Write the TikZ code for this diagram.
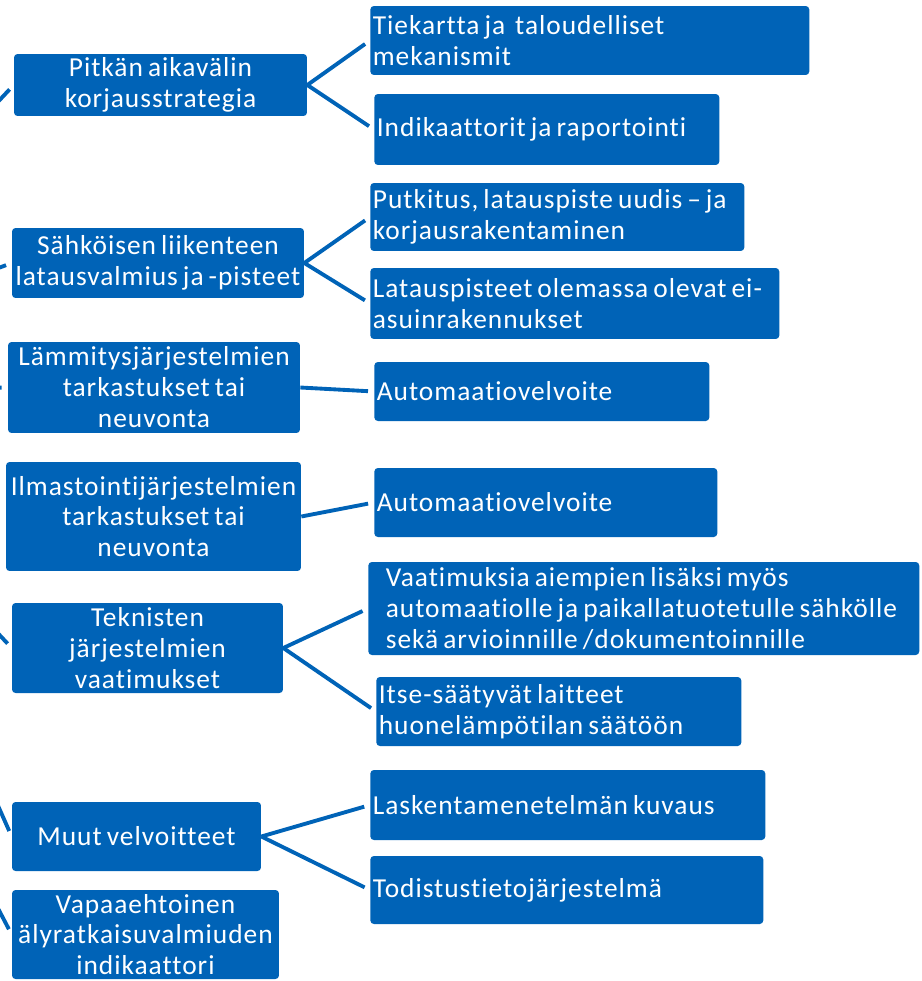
\documentclass[tikz,border=0pt]{standalone}
\usepackage{fontspec}
\setmainfont{Carlito}[LetterSpace=3.6,WordSpace=0.7,Ligatures={NoCommon}]
\usepackage{tikz}
\usetikzlibrary{positioning}
\definecolor{boxblue}{RGB}{0,99,183}

\begin{document}
\begin{tikzpicture}[x=0.02cm, y=-0.02cm,
  topic/.style={fill=boxblue,text=white,rounded corners=2pt,align=center,inner sep=0pt,font=\fontsize{15.6}{17.6}\selectfont},
  measure/.style={fill=boxblue,text=white,rounded corners=2pt,align=flush left,anchor=west,inner xsep=0.05cm,inner ysep=0pt,text width=#1,font=\fontsize{15.6}{17.6}\selectfont},
  link/.style={draw=boxblue,line width=2.2pt,shorten >=0.12cm}]
  \useasboundingbox (0,0) rectangle (922,981);
  \clip (0,0) rectangle (922,981);
  % left column
  \node[topic,minimum width=5.86cm,minimum height=1.24cm] (strategy) at (160.5,85) {Pitkän aikavälin\\korjausstrategia};
  \node[topic,minimum width=5.84cm,minimum height=1.4cm] (charging) at (158,263) {Sähköisen liikenteen\\latausvalmius ja -pisteet};
  \node[topic,minimum width=5.84cm,minimum height=1.82cm] (heating) at (154,387.5) {Lämmitysjärjestelmien\\tarkastukset tai\\neuvonta};
  \node[topic,minimum width=5.9cm,minimum height=2.18cm] (aircon) at (153.5,516.5) {Ilmastointijärjestelmien\\tarkastukset tai\\neuvonta};
  \node[topic,minimum width=5.42cm,minimum height=1.8cm] (technical) at (147.5,648) {Teknisten\\järjestelmien\\vaatimukset};
  \node[topic,minimum width=4.98cm,minimum height=1.38cm] (other) at (136.5,836.5) {Muut velvoitteet};
  \node[topic,minimum width=5.34cm,minimum height=1.78cm] (smart) at (145.5,934.5) {Vapaaehtoinen\\älyratkaisuvalmiuden\\indikaattori};
  % right column
  \node[measure=8.68cm,minimum height=1.38cm] (roadmap) at (370,40.5) {Tiekartta ja \ taloudelliset\\mekanismit};
  \node[measure=6.8cm,minimum height=1.42cm] (indicators) at (374,129.5) {Indikaattorit ja raportointi};
  \node[measure=7.38cm,minimum height=1.36cm] (piping) at (370,217) {Putkitus, latauspiste uudis – ja\\korjausrakentaminen};
  \node[measure=8.08cm,minimum height=1.42cm] (existing) at (370,303.5) {Latauspisteet olemassa olevat ei-\\asuinrakennukset};
  \node[measure=6.6cm,minimum height=1.18cm] (autoheat) at (374,391.5) {Automaatiovelvoite};
  \node[measure=6.76cm,minimum height=1.38cm] (autoair) at (374,502.5) {Automaatiovelvoite};
  \node[measure=10.92cm,minimum height=1.86cm] (requirements) at (368,608.5) {\hspace*{0.3cm}Vaatimuksia aiempien lisäksi myös\\\hspace*{0.3cm}automaatiolle ja paikallatuotetulle sähkölle\\\hspace*{0.3cm}sekä arvioinnille /dokumentoinnille};
  \node[measure=7.2cm,minimum height=1.38cm] (selfreg) at (376,711.5) {Itse-säätyvät laitteet\\huonelämpötilan säätöön};
  \node[measure=7.8cm,minimum height=1.4cm] (method) at (370,805) {Laskentamenetelmän kuvaus};
  \node[measure=7.76cm,minimum height=1.36cm] (register) at (370,890) {Todistustietojärjestelmä};
  % connectors
  \draw[link] (strategy.east) -- (roadmap.west);
  \draw[link] (strategy.east) -- (indicators.west);
  \draw[link] (charging.east) -- (piping.west);
  \draw[link] (charging.east) -- (existing.west);
  \draw[link] (heating.east) -- (autoheat.west);
  \draw[link] (aircon.east) -- (autoair.west);
  \draw[link] (technical.east) -- (requirements.west);
  \draw[link] (technical.east) -- (selfreg.west);
  \draw[link] (other.east) -- (method.west);
  \draw[link] (other.east) -- (register.west);
  % stubs from the parent beyond the left edge
  \coordinate (in1) at (-20,121);
  \coordinate (in2) at (-20,275);
  \coordinate (in3) at (-20,388);
  \coordinate (in5) at (-20,614);
  \coordinate (in6) at (-20,765);
  \coordinate (in7) at (-20,874);
  \draw[link] (in1) -- (strategy.west);
  \draw[link] (in2) -- (charging.west);
  \draw[link] (in3) -- (heating.west);
  \draw[link] (in5) -- (technical.west);
  \draw[link] (in6) -- (other.west);
  \draw[link] (in7) -- (smart.west);
\end{tikzpicture}
\end{document}
